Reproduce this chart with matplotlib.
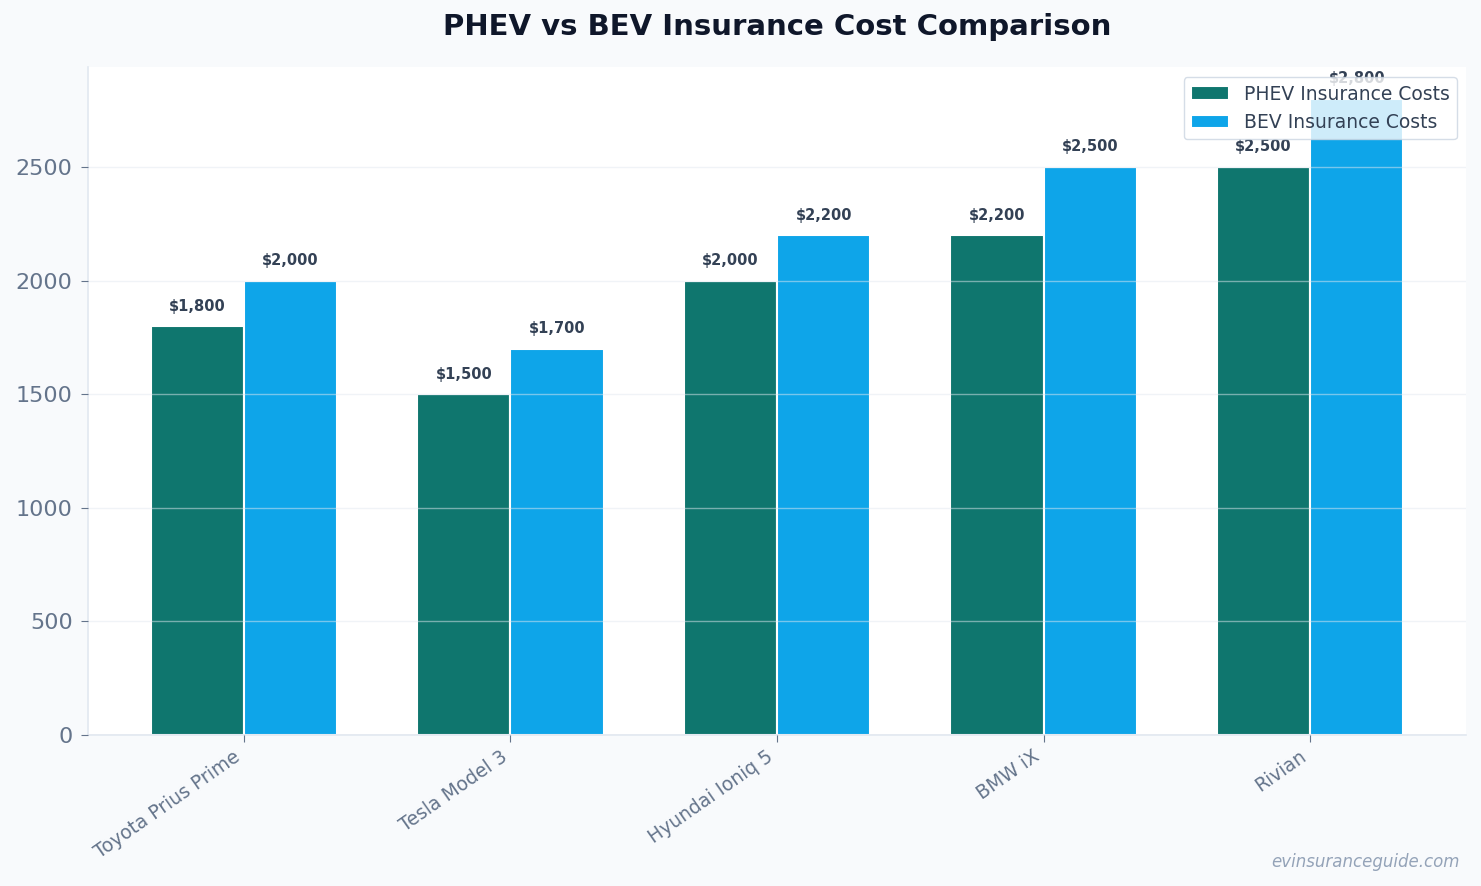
import matplotlib
matplotlib.use("Agg")
import matplotlib.pyplot as plt
import numpy as np

categories = ["Toyota Prius Prime", "Tesla Model 3", "Hyundai Ioniq 5", "BMW iX", "Rivian"]
phev_costs = [1800, 1500, 2000, 2200, 2500]
bev_costs = [2000, 1700, 2200, 2500, 2800]
series_names = ["PHEV Insurance Costs", "BEV Insurance Costs"]

PHEV_C = "#0f766e"
BEV_C = "#0ea5e9"
BG = "#f8fafc"

fig = plt.figure(figsize=(14.81, 8.86), dpi=100, facecolor=BG)
ax = fig.add_axes([88/1481, 1-735/886, (1466-88)/1481, (735-67)/886])
ax.set_facecolor("white")

x = np.arange(len(categories))
w = 0.35
b1 = ax.bar(x - w/2, phev_costs, w, color=PHEV_C, edgecolor="white", linewidth=1.5, label=series_names[0], zorder=2)
b2 = ax.bar(x + w/2, bev_costs, w, color=BEV_C, edgecolor="white", linewidth=1.5, label=series_names[1], zorder=2)

ax.set_ylim(0, max(bev_costs) * 1.05)
ax.grid(axis="y", color="#e2e8f0", alpha=0.5, linewidth=1, zorder=3)
ax.set_axisbelow(False)

for bars in (b1, b2):
    for r in bars:
        h = r.get_height()
        ax.annotate(f"${h:,.0f}", (r.get_x() + r.get_width()/2, h), xytext=(0, 9),
                    textcoords="offset points", ha="center", va="bottom",
                    fontsize=10.5, fontweight="bold", color="#334155", zorder=4)

ax.set_xticks(x)
ax.set_xticklabels(categories, rotation=35, ha="right", fontsize=13.5, color="#64748b")
ax.tick_params(axis="y", labelsize=16, labelcolor="#64748b", color="#64748b", length=5, pad=6)
ax.tick_params(axis="x", color="#64748b", length=5)

for s in ("top", "right"):
    ax.spines[s].set_visible(False)
for s in ("left", "bottom"):
    ax.spines[s].set_color("#e2e8f0")
    ax.spines[s].set_linewidth(1.2)

leg = ax.legend(loc="upper right", fontsize=13.5, frameon=True, facecolor="white", edgecolor="#cbd5e1",
                framealpha=0.8, labelcolor="#334155", bbox_to_anchor=(1457/1481, 1-77/886),
                bbox_transform=fig.transFigure, borderaxespad=0.0)
leg.set_zorder(5)

fig.text(777/1481, 1-27/886, "PHEV vs BEV Insurance Cost Comparison", ha="center", va="center",
         fontsize=21, fontweight="bold", color="#0f172a")
fig.text(1460/1481, 1-862/886, "evinsuranceguide.com", ha="right", va="center",
         fontsize=12, style="italic", color="#94a3b8")

fig.savefig("out.png", dpi=100, facecolor=BG)
